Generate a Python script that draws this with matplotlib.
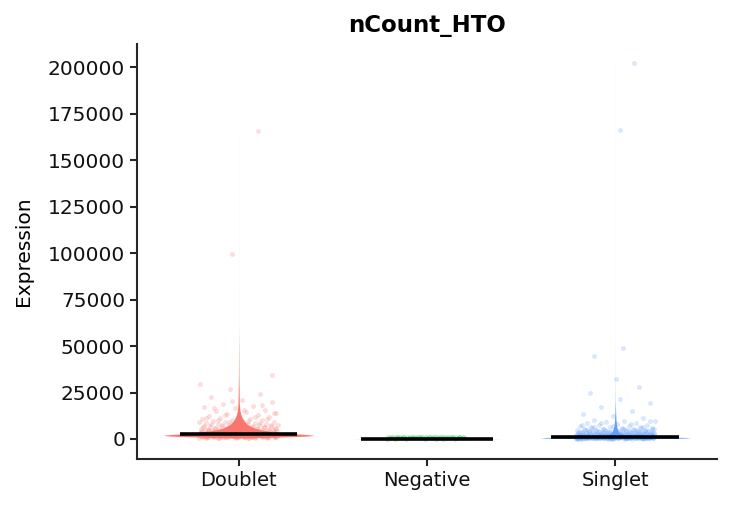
import numpy as np
import matplotlib
matplotlib.use("Agg")
import matplotlib.pyplot as plt

# groups shown on the x axis
groups = ["Doublet", "Negative", "Singlet"]
colors = ["#F8766D", "#00BA38", "#619CFF"]

# per-cell HTO counts (representative sample;
# order only decides where a cell lands inside its strip)
doublet_counts = [
    610, 640, 668, 700, 725, 757, 780, 812, 840, 866, 895, 921, 99500, 950,
    978, 1003, 1030, 1062, 1088, 165600, 1115, 1140, 1172, 1198, 1225, 1254,
    1280, 1309, 1336, 34400, 1362, 1390, 1418, 1445, 1470, 1502, 1528, 1555,
    1583, 1610, 1637, 1665, 1692, 1720, 1748, 1776, 1803, 1830, 1858, 1886,
    1915, 1942, 1970, 1998, 2027, 2055, 2084, 2112, 2141, 2170, 2199, 2228,
    2258, 2287, 2316, 2346, 2376, 2406, 2436, 2466, 2497, 2528, 2559, 2590,
    2622, 2654, 2686, 2718, 2751, 2784, 2817, 2851, 2885, 2920, 2955, 2990,
    3025, 3070, 3110, 3155, 3200, 3245, 3290, 3340, 3385, 3435, 3480, 3530,
    3580, 3630, 3680, 3735, 3785, 3840, 3895, 3950, 4005, 4060, 4120, 4180,
    4240, 4300, 4365, 4430, 4495, 4560, 4630, 4700, 4770, 4845, 4920, 4995,
    5075, 5155, 5240, 5325, 5415, 5505, 5600, 5695, 5795, 5900,
    6010, 6120, 6240, 6360, 6490, 6620, 6760, 6900, 7050, 7200, 7360, 7520,
    7690, 7870, 8050, 8240, 8440, 8650, 8870, 9100, 9340, 9590, 9850, 10120,
    10400, 10700, 11010, 11340, 11690, 12050,
    12450, 12900, 13400, 13950, 14500, 15100, 15750, 16450, 17200, 18000,
    18900, 19900, 21000, 22500, 24300, 26800, 29500,
    690, 760, 830, 905, 975, 1050, 1125, 1200, 1280, 1360, 1440, 1525, 1610,
    1700, 1790, 1885, 1980, 2080, 2180, 2285, 2390, 2500, 2615, 2730, 2850,
    2975, 3100, 3230, 3365, 3505, 3650, 3800, 3955, 4115, 4280, 4450, 4625,
    4810, 5000, 5195, 5400, 5610, 5830, 6060, 6300, 6550, 6810, 7080, 7360,
    7650, 7960, 8280, 8620, 8970, 9340, 9730, 10140, 10570, 11020, 11500,
    12000, 13100, 14200, 15400, 16900, 18500, 20200,
]
negative_counts = [
    0, 20, 60, 110, 160, 210, 260, 310, 360, 410, 460, 500, 540, 580, 620,
    650, 680, 710, 740, 760, 780, 800, 820, 840, 860, 870, 880, 890, 900,
    910, 920, 930, 940, 950, 960, 970, 980, 990, 1000, 1010, 1020, 1030,
    905, 915, 925, 935, 945, 955, 965, 975, 985, 995, 1005, 1015, 1025,
]
singlet_counts = [
    150, 172, 44600, 195, 214, 236, 255, 277, 296, 166000, 318, 337, 358,
    377, 398, 416, 437, 32000, 455, 202000, 476, 494, 49000, 515, 533, 553,
    571, 591, 609, 629, 647, 667, 685, 704, 722, 742, 760, 780, 798, 818,
    836, 856, 875, 894, 913, 933, 952, 972, 991, 1011, 1031, 1051, 1071,
    1092, 1113, 1134, 1155, 1177, 1199, 1221, 1244, 1267, 1290, 1314, 1338,
    1362, 1387, 1412, 1438, 1464, 1490, 1517, 1544, 1572, 1600, 1629, 1658,
    1688, 1718, 1749, 1780, 1812, 1844, 1877, 1910, 1944, 1978,
    2015, 2055, 2095, 2140, 2185, 2230, 2275, 2325, 2375, 2425, 2480, 2535,
    2590, 2650, 2710, 2770, 2835, 2900, 2970, 3040, 3110, 3185, 3260, 3340,
    3420, 3505, 3590, 3680, 3770, 3865, 3960, 4060, 4165, 4270, 4380, 4495,
    4610, 4730, 4855, 4985,
    5120, 5290, 5460, 5640, 5830, 6030, 6240, 6460, 6690, 6930, 7190, 7460,
    7740, 8040, 8360, 8700, 9060, 9440, 9850, 10300,
    11200, 12400, 13700, 15300, 17100, 19200, 21600, 24500, 28000,
    210, 265, 320, 372, 425, 468, 512, 548, 586, 618, 655, 690, 728, 765,
    802, 840, 878, 916, 955, 995, 1035, 1078, 1120, 1165, 1210, 1258, 1305,
    1356, 1408, 1462, 1518, 1576, 1636, 1698, 1762, 1830, 1900, 1972, 2048,
    2126, 2208, 2292, 2380, 2472, 2566, 2664, 2766, 2872, 2982, 3096, 3214,
    3336, 3462, 3594, 3730, 3870, 4016, 4166, 4322, 4484, 4650, 4822, 5000,
    5184, 5374, 5570, 5772, 5980,
    188, 248, 305, 350, 402, 446, 502, 540, 578, 612, 644, 676, 716, 752,
    790, 826, 866, 904, 942, 982, 1022, 1064, 1108, 1150, 1194, 1240, 1286,
    1336, 1388, 1440, 1496, 1552, 1610, 1672, 1734, 1800, 1868, 1940, 2012,
    2090, 2170, 2252, 2338, 2428, 2520, 2616, 2716, 2820, 2928, 3040, 3156,
    3276, 3400, 3528, 3662, 3800, 3944, 4092, 4246, 4404, 4568, 4738, 4912,
    5092, 5278, 5470, 6250, 6600, 7000, 7500, 8100, 8800, 9600,
]
medians = [2700, 200, 1000]

# violin outlines: count level and relative density (1 = widest)
doublet_violin_y = [600, 900, 1300, 1700, 2000, 2400, 2900, 3500, 4200, 5000,
                    6000, 7000, 8000, 9500, 11000, 13000, 15500, 19000, 25000,
                    35000, 60000, 100000, 165600]
doublet_violin_w = [0.05, 0.35, 0.75, 0.95, 1.0, 0.9, 0.72, 0.55, 0.4, 0.28,
                    0.2, 0.15, 0.11, 0.075, 0.05, 0.03, 0.016, 0.009, 0.006,
                    0.003, 0.0003, 0.0002, 0.0001]
negative_violin_y = [0, 100, 200, 300, 400]
negative_violin_w = [1.0, 0.7, 0.4, 0.15, 0.02]
singlet_violin_y = [150, 300, 500, 700, 900, 1100, 1400, 1800, 2300, 3000,
                    4000, 5000, 6500, 8500, 11000, 14000, 20000, 32000, 50000,
                    100000, 202000]
singlet_violin_w = [0.3, 0.7, 0.95, 1.0, 0.85, 0.6, 0.38, 0.2, 0.11, 0.065,
                    0.04, 0.028, 0.019, 0.013, 0.008, 0.005, 0.0015, 0.0005,
                    0.0002, 0.0001, 0.0001]

counts = [doublet_counts, negative_counts, singlet_counts]
violins = [
    (doublet_violin_y, doublet_violin_w),
    (negative_violin_y, negative_violin_w),
    (singlet_violin_y, singlet_violin_w),
]


def main():
    fig = plt.figure(figsize=(7.31, 5.07), dpi=100)
    ax = fig.add_axes([0.1874, 0.0947, 0.7934, 0.8185])

    half_violin = 0.4
    jitter = 0.42
    median_half = [0.31, 0.35, 0.34]

    for i, name in enumerate(groups):
        vy, vw = violins[i]
        vw = np.asarray(vw) * half_violin
        ax.fill_betweenx(vy, i - vw, i + vw, color=colors[i],
                         linewidth=0, zorder=1)

        vals = np.asarray(counts[i], dtype=float)
        # spread points evenly across the strip (golden-ratio offsets)
        offs = (np.arange(len(vals)) * 0.6180339887) % 1 - 0.5
        ax.scatter(i + offs * jitter, vals, s=8, color=colors[i],
                   alpha=0.22, linewidths=0.5, zorder=2)

        ax.hlines(medians[i], i - median_half[i], i + median_half[i],
                  color="black", linewidth=2.6, zorder=3)

    ax.set_xlim(-0.54, 2.54)
    ax.set_ylim(-10750, 212400)
    ax.set_xticks(range(len(groups)))
    ax.set_xticklabels(groups)
    ax.set_yticks([0, 25000, 50000, 75000, 100000, 125000, 150000,
                   175000, 200000])

    for side in ["top", "right"]:
        ax.spines[side].set_visible(False)
    for side in ["left", "bottom"]:
        ax.spines[side].set_linewidth(1.5)
        ax.spines[side].set_color("#262626")
    ax.tick_params(axis="both", length=5, width=1.5, color="#262626",
                   labelcolor="#111111")
    ax.tick_params(axis="x", labelsize=14)
    ax.tick_params(axis="y", labelsize=14.5)

    ax.set_ylabel("Expression", fontsize=14.5, labelpad=11)
    ax.set_title("nCount_HTO", fontsize=16.5, fontweight="bold", pad=9)

    fig.savefig("out.png", dpi=100)


if __name__ == "__main__":
    main()
